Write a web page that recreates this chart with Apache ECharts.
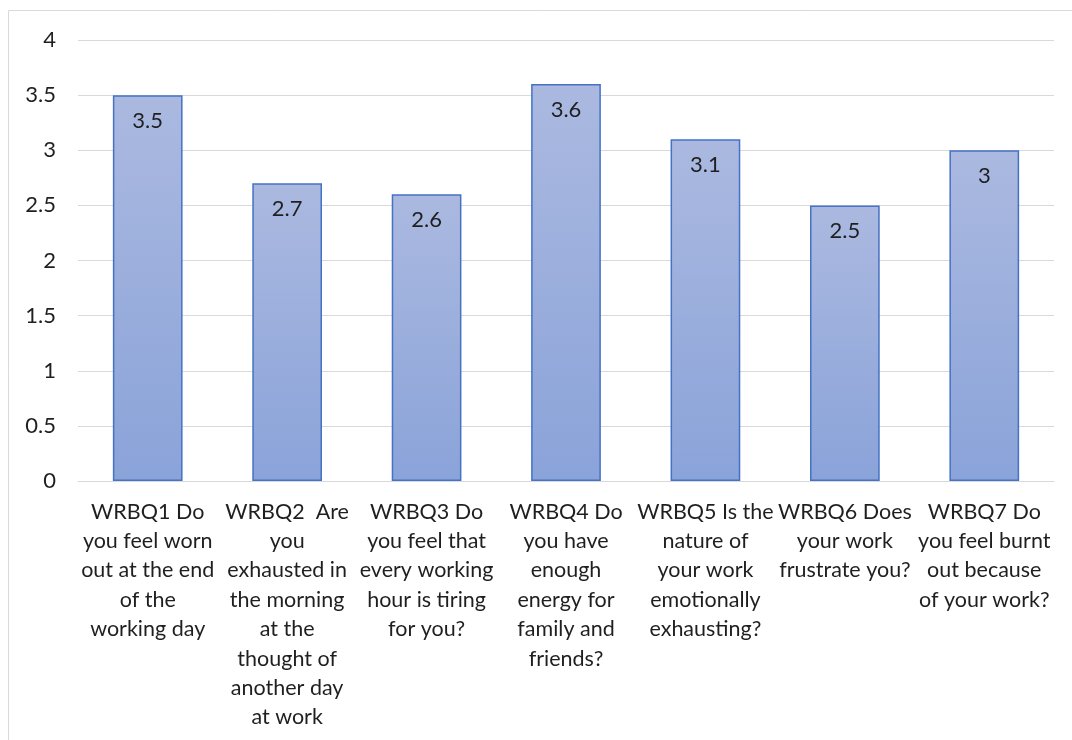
<!DOCTYPE html>
<html>
<head>
<meta charset="utf-8">
<script src="https://cdn.jsdelivr.net/npm/echarts@6/dist/echarts.min.js"></script>
<style>
  html, body { margin: 0; padding: 0; background: #ffffff; }
  #chart { width: 1072px; height: 740px; }
</style>
</head>
<body>
<div id="chart"></div>
<script>
// Question labels, wrapped the way they appear under each bar
const categories = [
  'WRBQ1 Do\nyou feel worn\nout at the end\nof the\nworking day',
  'WRBQ2  Are\nyou\nexhausted in\nthe morning\nat the\nthought of\nanother day\nat work',
  'WRBQ3 Do\nyou feel that\nevery working\nhour is tiring\nfor you?',
  'WRBQ4 Do\nyou have\nenough\nenergy for\nfamily and\nfriends?',
  'WRBQ5 Is the\nnature of\nyour work\nemotionally\nexhausting?',
  'WRBQ6 Does\nyour work\nfrustrate you?',
  'WRBQ7 Do\nyou feel burnt\nout because\nof your work?'
];
// Mean score per question
const scores = [3.5, 2.7, 2.6, 3.6, 3.1, 2.5, 3];

const FONT = 'Lato, "Open Sans", sans-serif';
const TEXT = '#1f1f1f';

const chart = echarts.init(document.getElementById('chart'), null, { renderer: 'canvas' });
chart.setOption({
  animation: false,
  backgroundColor: '#ffffff',
  graphic: [{
    type: 'rect',
    shape: { x: 8.5, y: 10.5, width: 1100, height: 800 },
    style: { fill: 'none', stroke: '#d9d9d9', lineWidth: 1 },
    silent: true
  }],
  grid: { left: 78, right: 18, top: 40, bottom: 259, containLabel: false },
  xAxis: {
    type: 'category',
    data: categories,
    axisTick: { show: false },
    axisLine: { show: true, lineStyle: { color: '#d9d9d9', width: 1 } },
    axisLabel: {
      interval: 0,
      margin: 16,
      color: TEXT,
      fontFamily: FONT,
      fontSize: 21.5,
      lineHeight: 29.4,
      align: 'center'
    }
  },
  yAxis: {
    type: 'value',
    min: 0,
    max: 4,
    interval: 0.5,
    axisLine: { show: false },
    axisTick: { show: false },
    splitLine: { lineStyle: { color: '#d9d9d9', width: 1 } },
    axisLabel: {
      color: TEXT,
      fontFamily: FONT,
      fontSize: 22,
      margin: 22
    }
  },
  series: [{
    type: 'bar',
    data: scores,
    barWidth: '50%',
    itemStyle: {
      borderColor: '#4472c4',
      borderWidth: 1.5,
      color: new echarts.graphic.LinearGradient(0, 0, 0, 1, [
        { offset: 0, color: '#abb9e0' },
        { offset: 1, color: '#8aa3d9' }
      ])
    },
    label: {
      show: true,
      position: 'insideTop',
      distance: 15,
      color: TEXT,
      fontFamily: FONT,
      fontSize: 22
    }
  }]
});
</script>
</body>
</html>
